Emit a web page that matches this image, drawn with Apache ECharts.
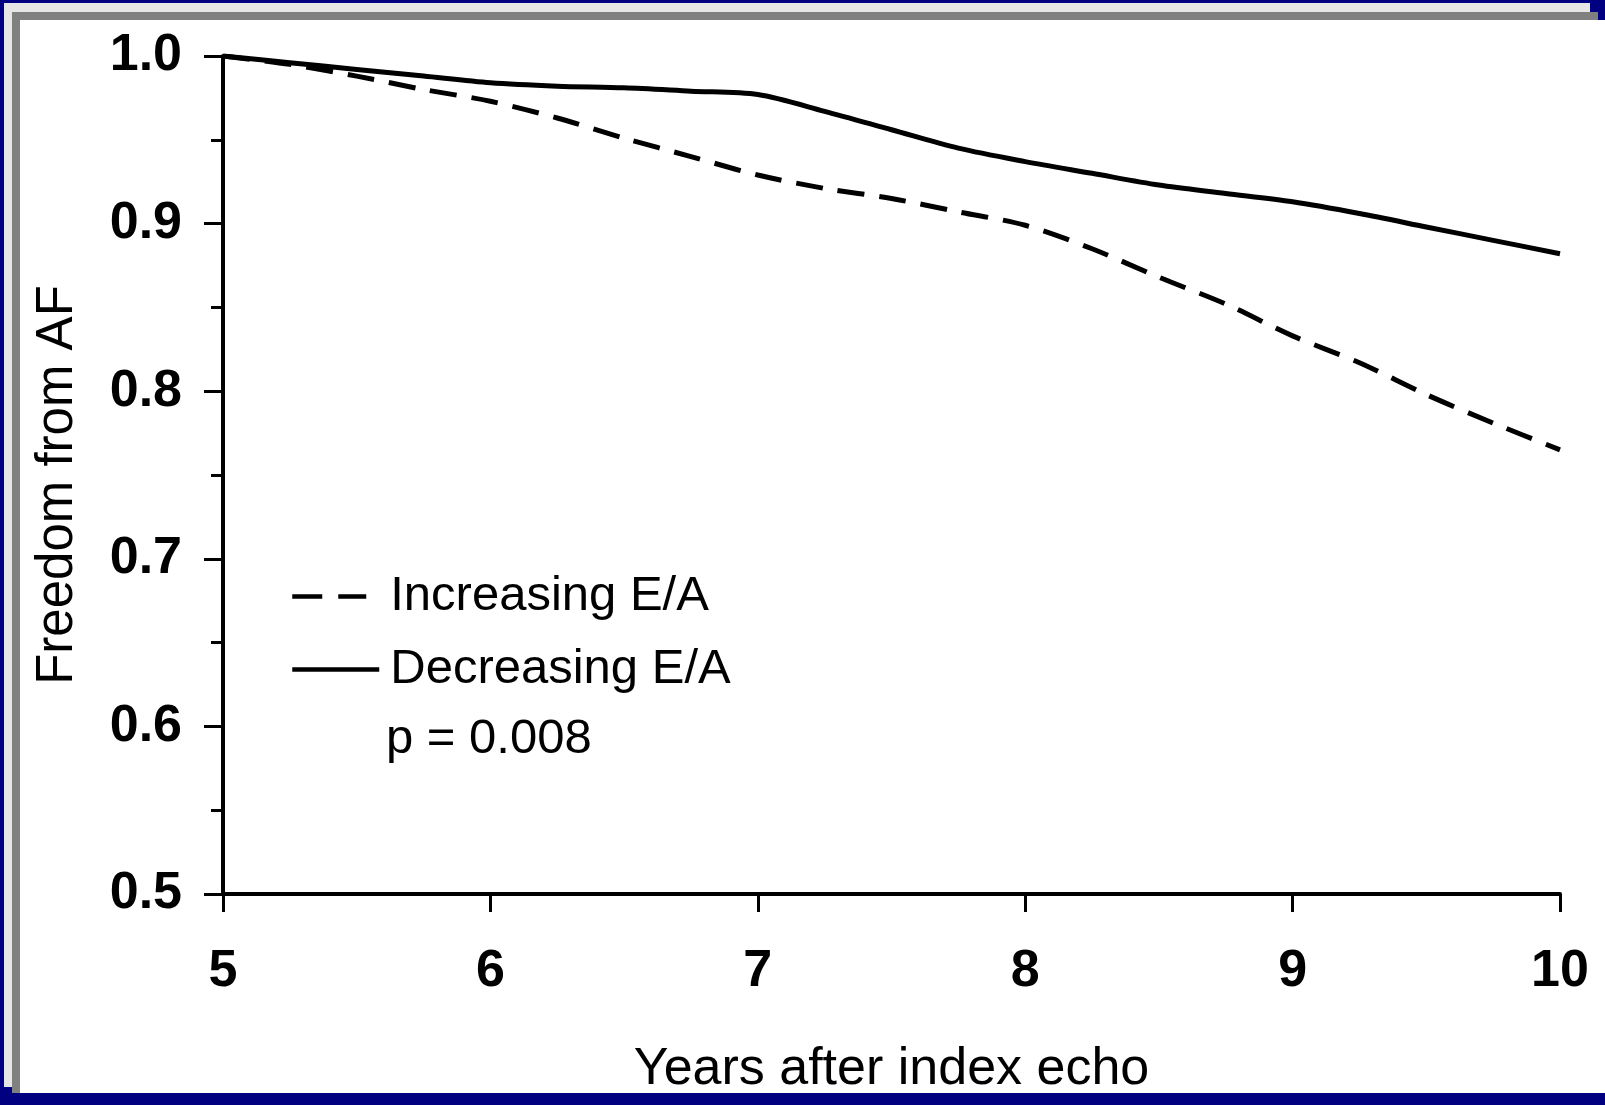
<!DOCTYPE html>
<html>
<head>
<meta charset="utf-8">
<script src="https://cdn.jsdelivr.net/npm/echarts@6/dist/echarts.min.js"></script>
<style>
  html, body { margin: 0; padding: 0; width: 1605px; height: 1105px; overflow: hidden; background: #000080; }
  .frame { position: absolute; }
  #chart { position: absolute; left: 0; top: 0; width: 1605px; height: 1105px; }
</style>
</head>
<body>
<div class="frame" style="left:4px;top:3px;width:1586px;height:1084px;background:#e6e6e6;"></div>
<div class="frame" style="left:12px;top:12px;width:1586px;height:1081px;background:#808080;"></div>
<div class="frame" style="left:20px;top:20px;width:1585px;height:1073px;background:#ffffff;"></div>
<div id="chart"></div>
<script>
// years after the index echo
var years = [5, 5.25, 5.5, 5.75, 6, 6.25, 6.5, 6.75, 7, 7.25, 7.5, 7.75, 8, 8.25, 8.5, 8.75, 9, 9.25, 9.5, 9.75, 10];
// freedom from AF
var increasingEA = [1.0, 0.995, 0.988, 0.980, 0.973, 0.963, 0.951, 0.940, 0.929, 0.921, 0.915, 0.907, 0.899, 0.885, 0.868, 0.852, 0.833, 0.817, 0.798, 0.781, 0.765];
var decreasingEA = [1.0, 0.996, 0.992, 0.988, 0.984, 0.982, 0.981, 0.979, 0.977, 0.967, 0.956, 0.945, 0.937, 0.930, 0.923, 0.918, 0.913, 0.906, 0.898, 0.890, 0.882];
var seriesNames = ['Increasing E/A', 'Decreasing E/A'];
var xTicks = [5, 6, 7, 8, 9, 10];
var yTicks = [0.5, 0.6, 0.7, 0.8, 0.9, 1.0];
var pText = 'p = 0.008';

var font = 'Liberation Sans, Arial, sans-serif';

function pairs(ys) {
    return years.map(function (x, i) { return [x, ys[i]]; });
}

var chart = echarts.init(document.getElementById('chart'), null, {renderer: 'canvas'});
var option = {
    backgroundColor: 'transparent',
    animation: false,
    grid: {left: 223, right: 45, top: 56, bottom: 211, containLabel: false},
    legend: {
        orient: 'vertical',
        left: 290,
        top: 572,
        padding: 0,
        itemWidth: 93,
        itemHeight: 14,
        itemGap: 24,
        textStyle: {fontFamily: font, fontSize: 49, color: '#000', lineHeight: 49},
        data: [
            // short icons: the dash array leaves the tail of the icon blank
            {name: seriesNames[0], lineStyle: {type: [30, 16, 28, 100], width: 4.5}, itemStyle: {opacity: 0}},
            {name: seriesNames[1], lineStyle: {type: [87, 100], width: 4.5}, itemStyle: {opacity: 0}}
        ]
    },
    graphic: [{
        type: 'text',
        left: 386,
        top: 715,
        style: {text: pText, font: '49px ' + font, fill: '#000'}
    }],
    xAxis: {
        type: 'value',
        min: xTicks[0],
        max: xTicks[xTicks.length - 1],
        interval: 1,
        name: 'Years after index echo',
        nameLocation: 'middle',
        nameGap: 150,
        nameTextStyle: {fontFamily: font, fontSize: 52, color: '#000'},
        axisLine: {lineStyle: {color: '#000', width: 4}},
        axisTick: {length: 18, lineStyle: {color: '#000', width: 3}},
        axisLabel: {fontFamily: font, fontSize: 52, fontWeight: 'bold', color: '#000', margin: 52},
        splitLine: {show: false}
    },
    yAxis: {
        type: 'value',
        min: yTicks[0],
        max: yTicks[yTicks.length - 1],
        interval: 0.1,
        name: 'Freedom from AF',
        nameLocation: 'middle',
        nameGap: 140,
        nameTextStyle: {fontFamily: font, fontSize: 51, color: '#000', padding: [0, 20, 0, 0]},
        axisLine: {lineStyle: {color: '#000', width: 4}},
        axisTick: {length: 19, lineStyle: {color: '#000', width: 3}},
        minorTick: {show: true, splitNumber: 2, length: 12, lineStyle: {color: '#000', width: 3}},
        axisLabel: {
            fontFamily: font, fontSize: 52, fontWeight: 'bold', color: '#000', margin: 41,
            formatter: function (v) { return v.toFixed(1); }
        },
        splitLine: {show: false},
        minorSplitLine: {show: false}
    },
    series: [
        {
            name: seriesNames[0],
            type: 'line',
            data: pairs(increasingEA),
            smooth: 0.3,
            symbol: 'none',
            lineStyle: {color: '#000', width: 5, type: [27, 15]},
            itemStyle: {color: '#000'}
        },
        {
            name: seriesNames[1],
            type: 'line',
            data: pairs(decreasingEA),
            smooth: 0.3,
            symbol: 'none',
            lineStyle: {color: '#000', width: 5},
            itemStyle: {color: '#000'}
        }
    ]
};
chart.setOption(option);
</script>
</body>
</html>
